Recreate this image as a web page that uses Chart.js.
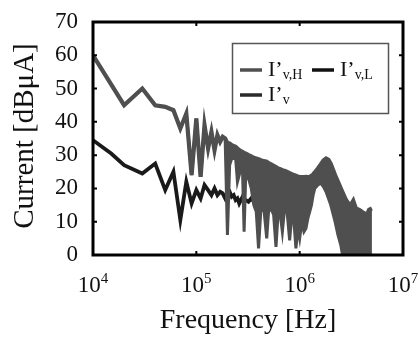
<!DOCTYPE html>
<html>
<head>
<meta charset="utf-8">
<script src="https://cdn.jsdelivr.net/npm/chart.js@4.4.1/dist/chart.umd.min.js"></script>
<style>
  html, body { margin: 0; padding: 0; background: #fff; }
  #chart { display: block; }
</style>
</head>
<body>
<canvas id="chart" width="420" height="338" style="width:420px;height:338px"></canvas>
<script>
// I'v (black trace)
const ivFreq = [1e4, 1.5e4, 2e4, 3e4, 4e4, 5e4, 6e4, 7e4, 8e4, 9e4,
  1e5, 1.1e5, 1.2e5, 1.3e5, 1.4e5, 1.5e5, 1.6e5, 1.7e5, 1.8e5, 1.9e5,
  2e5, 2.1e5, 2.2e5, 2.3e5, 2.4e5, 2.5e5, 2.6e5, 2.7e5, 2.8e5, 2.9e5,
  3e5, 3.2e5, 3.4e5, 3.6e5, 3.8e5];
const ivValues = [34.5, 30.5, 27, 24.5, 27.5, 19.5, 25, 10.5, 22, 15.5,
  19.5, 17, 21, 19.5, 18, 20, 18, 19, 18.5, 17,
  18.5, 19, 17.5, 18, 16.5, 17, 15.5, 16.5, 17.5, 16,
  16.5, 16, 17, 16, 16.5];

// I'v,H (grey trace) - top and bottom of the dense oscillation band
const ivhFreq = [1e4, 2e4, 3e4, 4e4, 5e4, 6e4, 7e4, 8e4, 9e4, 1e5,
  1.1e5, 1.2e5, 1.3e5, 1.4e5, 1.5e5, 1.6e5, 1.7e5, 1.8e5, 1.9e5,
  2e5, 2.1e5, 2.2e5, 2.4e5, 2.5e5, 2.6e5, 2.7e5, 2.8e5, 2.9e5, 3e5,
  3.2e5, 3.4e5, 3.6e5, 3.8e5, 4e5, 4.2e5, 4.5e5, 4.8e5, 5e5, 5.3e5,
  5.6e5, 5.9e5, 6.2e5, 6.5e5, 6.8e5, 7.1e5, 7.5e5, 8e5, 8.4e5, 8.8e5,
  9.2e5, 9.6e5, 1e6, 1.05e6, 1.1e6, 1.15e6, 1.2e6, 1.25e6, 1.3e6, 1.35e6,
  1.4e6, 1.5e6, 1.6e6, 1.7e6, 1.8e6, 1.9e6, 2e6, 2.2e6, 2.35e6, 2.5e6,
  2.6e6, 2.8e6, 3e6, 3.2e6, 3.3e6, 3.5e6, 3.8e6, 4e6, 4.3e6, 4.5e6,
  4.7e6, 5e6];
const ivhUpper = [60, 45, 50, 45, 44.5, 43.5, 38, 42.5, 24, 41,
  23.5, 39, 32, 37, 31.5, 36, 34, 35.5, 35,
  33.6, 33.5, 33, 32.5, 32, 31.5, 31.2, 31, 30.6, 30.5,
  30, 29.6, 29.2, 29, 28.8, 28.5, 28.2, 28, 27.6, 27.2,
  26.8, 26.4, 26, 25.8, 25.5, 25.3, 25, 24.6, 24.3, 24,
  23.8, 23.6, 23.4, 23.4, 23.4, 23.5, 23.4, 23.5, 23.8, 24.2,
  24.8, 26, 27.2, 28.4, 29, 28.6, 27.4, 24, 22, 20,
  18.8, 16.6, 15.2, 15.6, 16.3, 14, 13.5, 13, 12.4, 12.2,
  13.6, 14];
const ivhLower = [60, 45, 50, 45, 44.5, 43.5, 38, 42.5, 24, 41,
  23.5, 39, 32, 37, 31.5, 36, 34, 35.5, 35,
  6, 27, 29, 29, 22, 24, 26, 25, 7, 23,
  23, 20, 15, 13, 2, 13, 14, 5, 13, 14,
  12, 2.4, 13, 12, 7, 13, 14, 4.4, 12, 10,
  2, 8, 5, 10, 7, 8, 11, 13, 15, 18,
  20, 21, 21.6, 20.5, 19, 17, 15, 10, 6, 3,
  0, 0, 0, 0, 0, 0, 0, 0, 0, 0,
  0, 0];

const xTicks = [1e4, 1e5, 1e6, 1e7];
const xTickExp = ['4', '5', '6', '7'];
const yTicks = [0, 10, 20, 30, 40, 50, 60, 70];
const legendSubs = ['v,H', 'v,L', 'v'];

const serif = '"Liberation Serif", "Times New Roman", serif';
const grey = '#4f4f4f';
const black = '#1a1a1a';

const toPoints = (xs, ys) => xs.map((f, i) => ({ x: f, y: ys[i] }));

// frame, ticks, labels and legend
const decor = {
  id: 'decor',
  afterDatasetsDraw(chart) {
    const { ctx, chartArea: a, scales: { x, y } } = chart;
    ctx.save();
    ctx.strokeStyle = '#000';
    ctx.lineWidth = 3;
    ctx.strokeRect(a.left, a.top, a.right - a.left, a.bottom - a.top);

    // small inward ticks
    ctx.lineWidth = 2;
    ctx.beginPath();
    yTicks.forEach(v => {
      const py = y.getPixelForValue(v);
      ctx.moveTo(a.left, py); ctx.lineTo(a.left + 4, py);
      ctx.moveTo(a.right, py); ctx.lineTo(a.right - 4, py);
    });
    xTicks.forEach(v => {
      const px = x.getPixelForValue(v);
      ctx.moveTo(px, a.bottom); ctx.lineTo(px, a.bottom - 4);
      ctx.moveTo(px, a.top); ctx.lineTo(px, a.top + 4);
    });
    ctx.stroke();

    ctx.fillStyle = '#111';
    // y tick labels
    ctx.font = '23px ' + serif;
    ctx.textAlign = 'right';
    ctx.textBaseline = 'middle';
    yTicks.forEach(v => ctx.fillText(String(v), a.left - 15, y.getPixelForValue(v)));

    // x tick labels 10^n
    ctx.textAlign = 'left';
    ctx.textBaseline = 'alphabetic';
    xTicks.forEach((v, i) => {
      const px = x.getPixelForValue(v);
      ctx.font = '23px ' + serif;
      const wb = ctx.measureText('10').width;
      ctx.font = '15px ' + serif;
      const ws = ctx.measureText(xTickExp[i]).width;
      const x0 = px - (wb + ws) / 2;
      ctx.font = '23px ' + serif;
      ctx.fillText('10', x0, a.bottom + 37);
      ctx.font = '15px ' + serif;
      ctx.fillText(xTickExp[i], x0 + wb, a.bottom + 28);
    });

    // axis titles
    ctx.font = '28px ' + serif;
    ctx.textAlign = 'center';
    ctx.fillText('Frequency [Hz]', (a.left + a.right) / 2, 328);
    ctx.save();
    ctx.translate(25, 136);
    ctx.rotate(-Math.PI / 2);
    ctx.textBaseline = 'middle';
    ctx.font = '29px ' + serif;
    ctx.fillText('Current [dBμA]', 0, 0);
    ctx.restore();

    // legend
    ctx.strokeStyle = '#555';
    ctx.lineWidth = 1.5;
    ctx.strokeRect(232.5, 43.5, 156, 70);
    const items = [
      { x: 240, y: 70, color: grey },
      { x: 312, y: 70, color: '#111' },
      { x: 240, y: 95, color: '#2a2a2a' }
    ];
    items.forEach((it, i) => {
      ctx.strokeStyle = it.color;
      ctx.lineWidth = 3.5;
      ctx.beginPath();
      ctx.moveTo(it.x, it.y); ctx.lineTo(it.x + 22, it.y);
      ctx.stroke();
      ctx.textAlign = 'left';
      ctx.textBaseline = 'alphabetic';
      ctx.font = '22px ' + serif;
      ctx.fillText('I’', it.x + 28, it.y + 6);
      const w = ctx.measureText('I’').width;
      ctx.font = '14px ' + serif;
      ctx.fillText(legendSubs[i], it.x + 28 + w, it.y + 9);
    });
    ctx.restore();
  }
};

new Chart(document.getElementById('chart'), {
  type: 'line',
  plugins: [decor],
  data: {
    datasets: [
      {
        label: 'I’v,H upper',
        data: toPoints(ivhFreq, ivhUpper),
        borderColor: grey,
        borderWidth: 4.2,
        pointRadius: 0,
        fill: false,
        order: 1
      },
      {
        label: 'I’v,H lower',
        data: toPoints(ivhFreq, ivhLower),
        borderColor: grey,
        backgroundColor: grey,
        borderWidth: 3,
        pointRadius: 0,
        fill: 0,
        order: 1
      },
      {
        label: 'I’v',
        data: toPoints(ivFreq, ivValues),
        borderColor: black,
        borderWidth: 3.8,
        pointRadius: 0,
        fill: false,
        order: 3
      }
    ]
  },
  options: {
    responsive: false,
    animation: false,
    layout: { padding: { left: 93, right: 17, top: 22, bottom: 83 } },
    scales: {
      x: { type: 'logarithmic', min: 1e4, max: 1e7, display: false },
      y: { type: 'linear', min: 0, max: 70, display: false }
    },
    plugins: {
      legend: { display: false },
      tooltip: { enabled: false }
    }
  }
});
</script>
</body>
</html>
